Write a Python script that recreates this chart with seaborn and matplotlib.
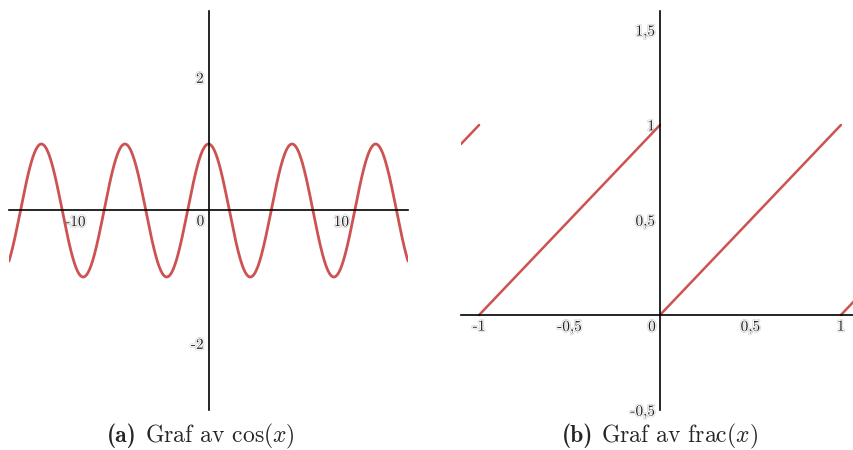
import numpy as np
import pandas as pd
import matplotlib
matplotlib.use("Agg")
import matplotlib.pyplot as plt
import matplotlib.patheffects as pe
import seaborn as sns

# Panel (a): cos(x) sampled over the visible window
cos_xrange = [-15, 15]
cos_xticks = [-10, 10]
cos_xticklabels = ["-10", "10"]
cos_yticks = [-2, 2]
cos_yticklabels = ["-2", "2"]

# Panel (b): frac(x) as straight pieces between the jumps
frac_seg = [0, 0, 1, 1, 2, 2, 3, 3]
frac_x = [-1.1, -1.0, -1.0, 0.0, 0.0, 1.0, 1.0, 1.1]
frac_y = [0.9, 1.0, 0.0, 1.0, 0.0, 1.0, 0.0, 0.1]
frac_xticks = [-1, -0.5, 0.5, 1]
frac_xticklabels = ["-1", "-0,5", "0,5", "1"]
frac_yticks = [-0.5, 0.5, 1, 1.5]
frac_yticklabels = ["-0,5", "0,5", "1", "1,5"]

caption_tags = ["(a)", "(b)"]
caption_texts = [r"Graf av $\cos(x)$", r"Graf av $\mathrm{frac}(x)$"]

sns.set_style("white")
plt.rcParams["mathtext.fontset"] = "cm"
plt.rcParams["font.family"] = ["cmr10", "DejaVu Serif"]
plt.rcParams["axes.unicode_minus"] = False

line_color = "#cd5252"
tick_fs = 11
halo = [pe.Stroke(linewidth=2.2, foreground="#d2d2d2"),
        pe.Stroke(linewidth=1.3, foreground="white"),
        pe.Normal()]

fig = plt.figure(figsize=(8.54, 4.5), dpi=100)
ax1 = fig.add_axes([9 / 854, 40 / 450, 399 / 854, 399 / 450])
ax2 = fig.add_axes([461 / 854, 40 / 450, 398 / 854, 399 / 450])

xs = np.linspace(cos_xrange[0], cos_xrange[1], 1200)
df_cos = pd.DataFrame({"x": xs, "y": np.cos(xs)})
sns.lineplot(data=df_cos, x="x", y="y", ax=ax1, color=line_color, lw=2.0, estimator=None, sort=False)

df_frac = pd.DataFrame({"x": frac_x, "y": frac_y, "seg": frac_seg})
sns.lineplot(data=df_frac, x="x", y="y", units="seg", estimator=None, ax=ax2,
             color=line_color, lw=1.8, sort=False)


def style_axes(ax, xlim, ylim, xt, xtl, yt, ytl, zero_off):
    ax.set_xlim(*xlim)
    ax.set_ylim(*ylim)
    ax.set_xlabel("")
    ax.set_ylabel("")
    for s in ["top", "right"]:
        ax.spines[s].set_visible(False)
    for s in ["left", "bottom"]:
        ax.spines[s].set_position(("data", 0))
        ax.spines[s].set_color("black")
        ax.spines[s].set_linewidth(1.2)
    ax.set_xticks(xt)
    ax.set_xticklabels(xtl)
    ax.set_yticks(yt)
    ax.set_yticklabels(ytl)
    ax.tick_params(direction="inout", length=5, width=1.0, colors="black",
                   labelsize=tick_fs, pad=1.0)
    for lab in ax.get_xticklabels() + ax.get_yticklabels():
        lab.set_path_effects(halo)
        lab.set_color("#222222")
    ax.annotate("0", xy=(0, 0), xytext=zero_off, textcoords="offset pixels",
                ha="center", va="center", fontsize=tick_fs, color="#222222",
                path_effects=halo)
    ax.patch.set_alpha(0)


style_axes(ax1, (-15, 15), (-3, 3), cos_xticks, cos_xticklabels,
           cos_yticks, cos_yticklabels, (-8, -11))
style_axes(ax2, (-1.1, 1.1), (-0.5, 1.6), frac_xticks, frac_xticklabels,
           frac_yticks, frac_yticklabels, (-8, -12))

# Captions: bold tag followed by the regular text, centred as one line
cap_fs = 17
cap_y = 1 - 436 / 450
fig.canvas.draw()
renderer = fig.canvas.get_renderer()
for cx, tag, txt in zip([201 / 854, 660 / 854], caption_tags, caption_texts):
    t1 = fig.text(0, cap_y, tag, family="cmb10", fontsize=cap_fs, ha="left", va="center")
    t2 = fig.text(0, cap_y, txt, fontsize=cap_fs, ha="left", va="center")
    w1 = t1.get_window_extent(renderer).width / fig.bbox.width
    w2 = t2.get_window_extent(renderer).width / fig.bbox.width
    gap = 8 / fig.bbox.width
    x0 = cx - (w1 + gap + w2) / 2
    t1.set_x(x0)
    t2.set_x(x0 + w1 + gap)

fig.savefig("out.png", dpi=100)
